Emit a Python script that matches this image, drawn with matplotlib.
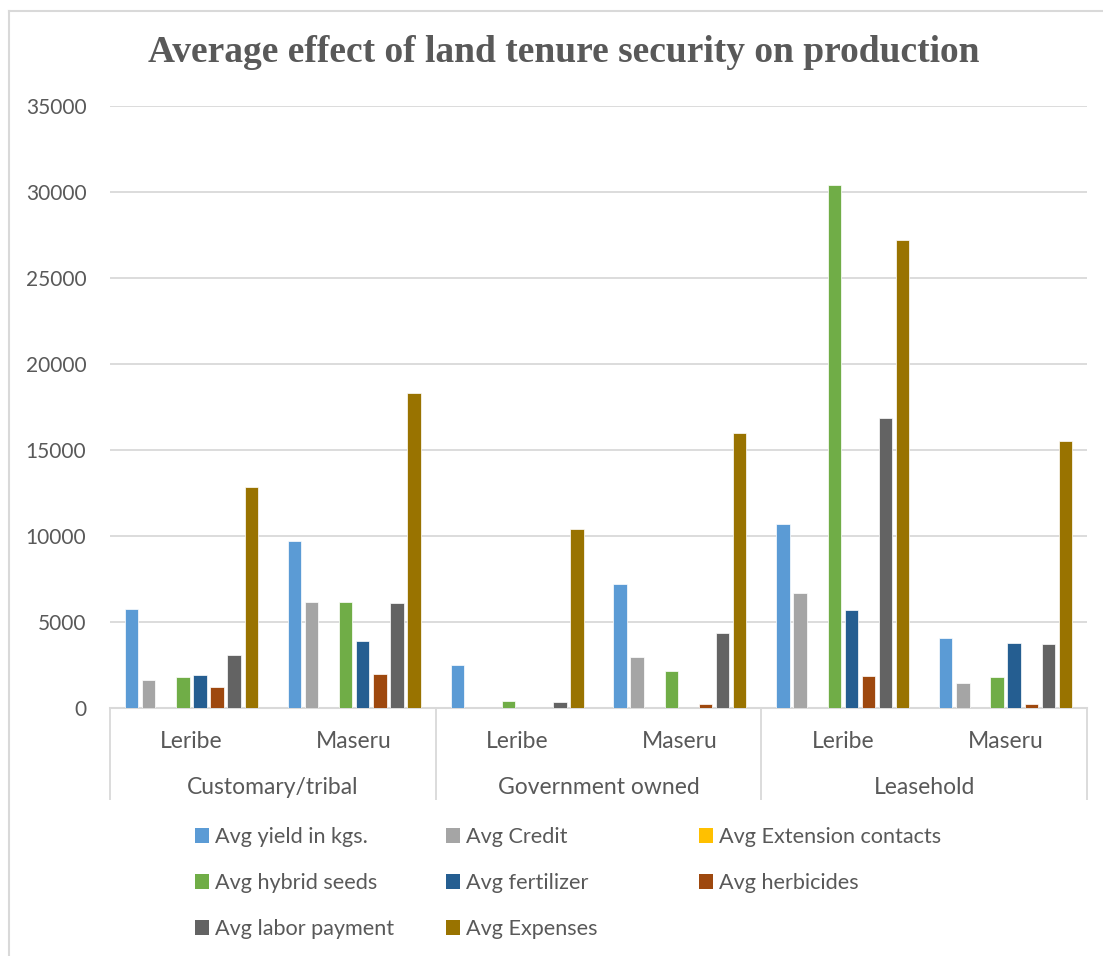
import numpy as np
import matplotlib
matplotlib.use("Agg")
import matplotlib.pyplot as plt
from matplotlib.patches import Patch
from matplotlib.lines import Line2D

# Land tenure groups and districts
groups = ["Customary/tribal", "Government owned", "Leasehold"]
districts = ["Leribe", "Maseru", "Leribe", "Maseru", "Leribe", "Maseru"]

# Average values per tenure/district
avg_yield = [5740, 9700, 2480, 7190, 10680, 4070]
avg_credit = [1630, 6160, 0, 2990, 6670, 1440]
avg_extension = [3, 4, 2, 3, 5, 3]
avg_hybrid_seeds = [1820, 6160, 390, 2130, 30400, 1790]
avg_fertilizer = [1900, 3890, 0, 0, 5680, 3780]
avg_herbicides = [1240, 1980, 0, 230, 1840, 210]
avg_labor = [3060, 6120, 330, 4340, 16850, 3720]
avg_expenses = [12850, 18300, 10420, 16000, 27200, 15500]

series_names = ["Avg yield in kgs.", "Avg Credit", "Avg Extension contacts",
                "Avg hybrid seeds", "Avg fertilizer", "Avg herbicides",
                "Avg labor payment", "Avg Expenses"]
series_values = [avg_yield, avg_credit, avg_extension, avg_hybrid_seeds,
                 avg_fertilizer, avg_herbicides, avg_labor, avg_expenses]
colors = ["#5B9BD5", "#A5A5A5", "#FFC000", "#70AD47",
          "#255E91", "#9E480E", "#636363", "#997300"]

W, H = 1103, 956
fig = plt.figure(figsize=(W / 100, H / 100), dpi=100)
fig.patch.set_facecolor("white")

text_font = ["Lato", "DejaVu Sans"]
text_color = "#595959"
grid_color = "#D9D9D9"

# chart frame (left and top edges)
fig.add_artist(Line2D([9 / W, 9 / W], [0, 1 - 11 / H], transform=fig.transFigure,
                      color=grid_color, lw=1.5))
fig.add_artist(Line2D([9 / W, 1], [1 - 11 / H, 1 - 11 / H], transform=fig.transFigure,
                      color=grid_color, lw=1.5))

ax = fig.add_axes([110 / W, 1 - 708 / H, (1087 - 110) / W, (708 - 106) / H])

x = np.arange(len(districts))
n = len(series_values)
step = 0.105
width = 0.082
for i, (vals, c) in enumerate(zip(series_values, colors)):
    offs = (i - (n - 1) / 2) * step
    ax.bar(x + offs, vals, width=width, color=c, edgecolor="white",
           linewidth=0.5, zorder=3)

ax.set_xlim(-0.5, len(districts) - 0.5)
ax.set_ylim(0, 35000)
ax.set_yticks(np.arange(0, 35001, 5000))
ax.yaxis.grid(True, color=grid_color, lw=1.3, zorder=0)
ax.set_axisbelow(True)
for s in ["top", "right", "left"]:
    ax.spines[s].set_visible(False)
ax.spines["bottom"].set_color(grid_color)
ax.spines["bottom"].set_linewidth(1.5)
ax.tick_params(axis="y", length=0, pad=17, labelsize=15, labelcolor=text_color)
for lbl in ax.get_yticklabels():
    lbl.set_fontfamily(text_font)

# inner category labels (districts)
ax.set_xticks(x)
ax.set_xticklabels(districts, fontsize=16.5, color=text_color, fontfamily=text_font)
ax.tick_params(axis="x", length=0, pad=16.5)

# outer category labels (tenure groups) with separators
sec = ax.secondary_xaxis("bottom")
sec.set_xticks([0.5, 2.5, 4.5])
sec.set_xticklabels(groups, fontsize=16.5, color=text_color, fontfamily=text_font)
sec.set_xticks([-0.5, 1.5, 3.5, 5.5], minor=True)
sec.tick_params(axis="x", which="major", length=0, pad=49.5)
sec.tick_params(axis="x", which="minor", length=66, width=1.3, color=grid_color)
sec.spines["bottom"].set_visible(False)

fig.text(563.5 / W, 1 - 53 / H, "Average effect of land tenure security on production",
         ha="center", va="center", fontsize=27, fontweight="bold",
         fontfamily=["Liberation Serif", "DejaVu Serif"], color=text_color)

# legend laid out in three columns, filled row by row
handles = [Patch(facecolor=c, edgecolor="none") for c in colors]
col_x = [195, 446, 699]
for col in range(3):
    idx = list(range(col, n, 3))
    leg = fig.legend([handles[i] for i in idx], [series_names[i] for i in idx],
                     loc="upper left", bbox_to_anchor=(col_x[col] / W, 1 - 827 / H),
                     frameon=False, ncol=1, borderpad=0, borderaxespad=0,
                     handlelength=0.64, handleheight=0.64, handletextpad=0.3,
                     labelspacing=1.2,
                     prop={"family": text_font, "size": 15.6})
    for t in leg.get_texts():
        t.set_color(text_color)

fig.savefig("out.png", dpi=100, facecolor="white")
